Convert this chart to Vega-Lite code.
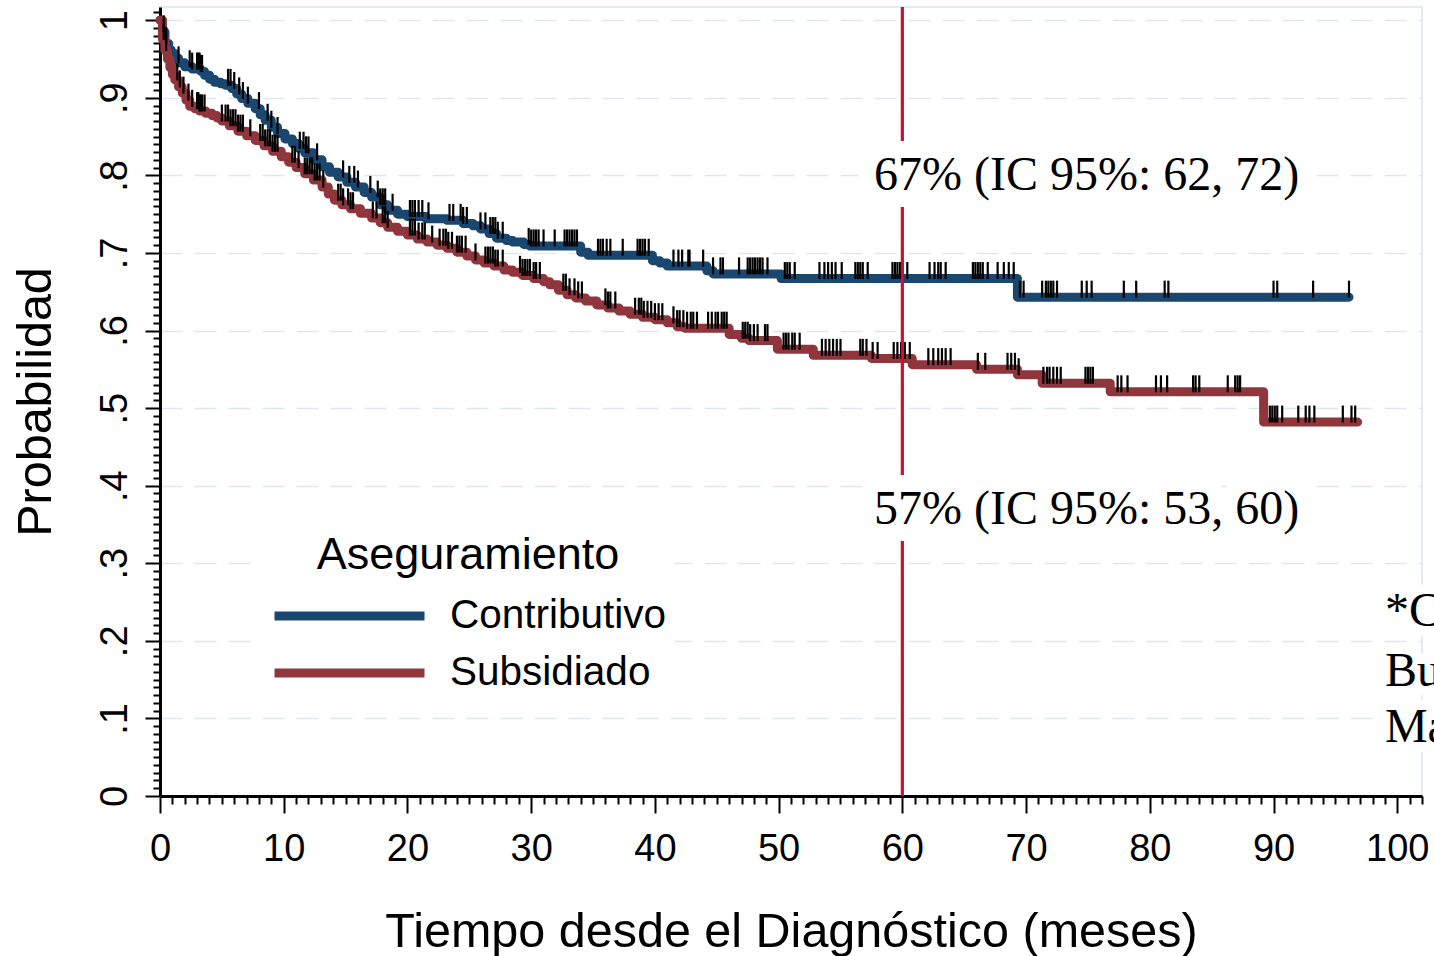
{
  "$schema": "https://vega.github.io/schema/vega-lite/v6.json",
  "width": 1262,
  "height": 789,
  "autosize": {"type": "none"},
  "padding": {"left": 160, "top": 7, "right": 12, "bottom": 160},
  "background": "white",
  "config": {
    "view": {"stroke": "#e3edf1", "strokeWidth": 2},
    "font": "Liberation Sans",
    "axisY": {
      "titleFont": "Liberation Sans",
      "titleFontSize": 48.5,
      "titleFontWeight": "normal",
      "titleColor": "black",
      "titlePadding": 36,
      "labelFont": "Liberation Sans",
      "labelFontSize": 38,
      "labelColor": "black",
      "labelAngle": 270,
      "labelAlign": "center",
      "labelBaseline": "bottom",
      "labelPadding": 11,
      "labelFlush": false,
      "labelOverlap": false,
      "tickColor": "black",
      "tickWidth": 2,
      "domainColor": "black",
      "domainWidth": 3,
      "grid": true,
      "gridColor": "#dde8ed",
      "gridWidth": 1.5,
      "gridDash": [22, 12]
    }
  },
  "datasets": {
    "curvas": [
      {"grupo": "Contributivo", "t": 0, "s": 1.0},
      {"grupo": "Contributivo", "t": 0.2, "s": 0.985},
      {"grupo": "Contributivo", "t": 0.4, "s": 0.970},
      {"grupo": "Contributivo", "t": 0.7, "s": 0.962},
      {"grupo": "Contributivo", "t": 0.9, "s": 0.957},
      {"grupo": "Contributivo", "t": 1.2, "s": 0.951},
      {"grupo": "Contributivo", "t": 1.5, "s": 0.945},
      {"grupo": "Contributivo", "t": 2.0, "s": 0.940},
      {"grupo": "Contributivo", "t": 2.6, "s": 0.937},
      {"grupo": "Contributivo", "t": 3.3, "s": 0.934},
      {"grupo": "Contributivo", "t": 3.6, "s": 0.929},
      {"grupo": "Contributivo", "t": 4.0, "s": 0.924},
      {"grupo": "Contributivo", "t": 4.4, "s": 0.920},
      {"grupo": "Contributivo", "t": 4.9, "s": 0.918},
      {"grupo": "Contributivo", "t": 5.3, "s": 0.916},
      {"grupo": "Contributivo", "t": 5.8, "s": 0.912},
      {"grupo": "Contributivo", "t": 6.2, "s": 0.905},
      {"grupo": "Contributivo", "t": 6.6, "s": 0.899},
      {"grupo": "Contributivo", "t": 7.1, "s": 0.893},
      {"grupo": "Contributivo", "t": 7.7, "s": 0.886},
      {"grupo": "Contributivo", "t": 8.1, "s": 0.878},
      {"grupo": "Contributivo", "t": 8.5, "s": 0.871},
      {"grupo": "Contributivo", "t": 9.0, "s": 0.862},
      {"grupo": "Contributivo", "t": 9.5, "s": 0.854},
      {"grupo": "Contributivo", "t": 10.1, "s": 0.847},
      {"grupo": "Contributivo", "t": 10.7, "s": 0.841},
      {"grupo": "Contributivo", "t": 11.2, "s": 0.835},
      {"grupo": "Contributivo", "t": 11.7, "s": 0.829},
      {"grupo": "Contributivo", "t": 12.4, "s": 0.820},
      {"grupo": "Contributivo", "t": 13.1, "s": 0.811},
      {"grupo": "Contributivo", "t": 13.7, "s": 0.804},
      {"grupo": "Contributivo", "t": 14.4, "s": 0.798},
      {"grupo": "Contributivo", "t": 15.1, "s": 0.791},
      {"grupo": "Contributivo", "t": 15.8, "s": 0.785},
      {"grupo": "Contributivo", "t": 16.5, "s": 0.778},
      {"grupo": "Contributivo", "t": 17.1, "s": 0.772},
      {"grupo": "Contributivo", "t": 17.8, "s": 0.762},
      {"grupo": "Contributivo", "t": 18.4, "s": 0.755},
      {"grupo": "Contributivo", "t": 19.2, "s": 0.750},
      {"grupo": "Contributivo", "t": 20.0, "s": 0.747},
      {"grupo": "Contributivo", "t": 21.5, "s": 0.744},
      {"grupo": "Contributivo", "t": 23.2, "s": 0.742},
      {"grupo": "Contributivo", "t": 24.5, "s": 0.738},
      {"grupo": "Contributivo", "t": 25.3, "s": 0.735},
      {"grupo": "Contributivo", "t": 25.9, "s": 0.731},
      {"grupo": "Contributivo", "t": 26.6, "s": 0.725},
      {"grupo": "Contributivo", "t": 27.2, "s": 0.719},
      {"grupo": "Contributivo", "t": 28.0, "s": 0.716},
      {"grupo": "Contributivo", "t": 28.5, "s": 0.714},
      {"grupo": "Contributivo", "t": 29.4, "s": 0.711},
      {"grupo": "Contributivo", "t": 29.9, "s": 0.709},
      {"grupo": "Contributivo", "t": 34.0, "s": 0.701},
      {"grupo": "Contributivo", "t": 34.6, "s": 0.697},
      {"grupo": "Contributivo", "t": 39.8, "s": 0.690},
      {"grupo": "Contributivo", "t": 40.4, "s": 0.687},
      {"grupo": "Contributivo", "t": 41.0, "s": 0.683},
      {"grupo": "Contributivo", "t": 44.2, "s": 0.677},
      {"grupo": "Contributivo", "t": 44.7, "s": 0.673},
      {"grupo": "Contributivo", "t": 50.2, "s": 0.667},
      {"grupo": "Contributivo", "t": 69.3, "s": 0.643},
      {"grupo": "Contributivo", "t": 96.1, "s": 0.643},
      {"grupo": "Subsidiado", "t": 0, "s": 1.0},
      {"grupo": "Subsidiado", "t": 0.2, "s": 0.975},
      {"grupo": "Subsidiado", "t": 0.4, "s": 0.961},
      {"grupo": "Subsidiado", "t": 0.6, "s": 0.950},
      {"grupo": "Subsidiado", "t": 0.8, "s": 0.939},
      {"grupo": "Subsidiado", "t": 1.0, "s": 0.930},
      {"grupo": "Subsidiado", "t": 1.2, "s": 0.923},
      {"grupo": "Subsidiado", "t": 1.5, "s": 0.914},
      {"grupo": "Subsidiado", "t": 1.8, "s": 0.906},
      {"grupo": "Subsidiado", "t": 2.1, "s": 0.897},
      {"grupo": "Subsidiado", "t": 2.4, "s": 0.889},
      {"grupo": "Subsidiado", "t": 2.8, "s": 0.886},
      {"grupo": "Subsidiado", "t": 3.2, "s": 0.883},
      {"grupo": "Subsidiado", "t": 3.7, "s": 0.880},
      {"grupo": "Subsidiado", "t": 4.2, "s": 0.877},
      {"grupo": "Subsidiado", "t": 4.6, "s": 0.874},
      {"grupo": "Subsidiado", "t": 5.0, "s": 0.870},
      {"grupo": "Subsidiado", "t": 5.6, "s": 0.864},
      {"grupo": "Subsidiado", "t": 6.3, "s": 0.857},
      {"grupo": "Subsidiado", "t": 7.0, "s": 0.851},
      {"grupo": "Subsidiado", "t": 7.7, "s": 0.845},
      {"grupo": "Subsidiado", "t": 8.4, "s": 0.838},
      {"grupo": "Subsidiado", "t": 9.1, "s": 0.831},
      {"grupo": "Subsidiado", "t": 9.8, "s": 0.824},
      {"grupo": "Subsidiado", "t": 10.4, "s": 0.817},
      {"grupo": "Subsidiado", "t": 11.0, "s": 0.810},
      {"grupo": "Subsidiado", "t": 11.7, "s": 0.802},
      {"grupo": "Subsidiado", "t": 12.4, "s": 0.794},
      {"grupo": "Subsidiado", "t": 13.1, "s": 0.785},
      {"grupo": "Subsidiado", "t": 13.6, "s": 0.776},
      {"grupo": "Subsidiado", "t": 14.1, "s": 0.768},
      {"grupo": "Subsidiado", "t": 14.7, "s": 0.762},
      {"grupo": "Subsidiado", "t": 15.4, "s": 0.757},
      {"grupo": "Subsidiado", "t": 16.2, "s": 0.751},
      {"grupo": "Subsidiado", "t": 17.1, "s": 0.745},
      {"grupo": "Subsidiado", "t": 17.8, "s": 0.739},
      {"grupo": "Subsidiado", "t": 18.4, "s": 0.733},
      {"grupo": "Subsidiado", "t": 19.2, "s": 0.728},
      {"grupo": "Subsidiado", "t": 20.0, "s": 0.723},
      {"grupo": "Subsidiado", "t": 20.8, "s": 0.718},
      {"grupo": "Subsidiado", "t": 21.6, "s": 0.714},
      {"grupo": "Subsidiado", "t": 22.4, "s": 0.710},
      {"grupo": "Subsidiado", "t": 23.2, "s": 0.706},
      {"grupo": "Subsidiado", "t": 24.0, "s": 0.701},
      {"grupo": "Subsidiado", "t": 24.8, "s": 0.696},
      {"grupo": "Subsidiado", "t": 25.5, "s": 0.691},
      {"grupo": "Subsidiado", "t": 26.2, "s": 0.687},
      {"grupo": "Subsidiado", "t": 27.0, "s": 0.683},
      {"grupo": "Subsidiado", "t": 27.8, "s": 0.678},
      {"grupo": "Subsidiado", "t": 28.5, "s": 0.675},
      {"grupo": "Subsidiado", "t": 29.3, "s": 0.671},
      {"grupo": "Subsidiado", "t": 30.2, "s": 0.667},
      {"grupo": "Subsidiado", "t": 31.0, "s": 0.663},
      {"grupo": "Subsidiado", "t": 31.5, "s": 0.659},
      {"grupo": "Subsidiado", "t": 32.2, "s": 0.652},
      {"grupo": "Subsidiado", "t": 32.9, "s": 0.646},
      {"grupo": "Subsidiado", "t": 33.6, "s": 0.642},
      {"grupo": "Subsidiado", "t": 34.4, "s": 0.638},
      {"grupo": "Subsidiado", "t": 35.3, "s": 0.633},
      {"grupo": "Subsidiado", "t": 36.2, "s": 0.629},
      {"grupo": "Subsidiado", "t": 37.1, "s": 0.625},
      {"grupo": "Subsidiado", "t": 38.0, "s": 0.621},
      {"grupo": "Subsidiado", "t": 39.0, "s": 0.617},
      {"grupo": "Subsidiado", "t": 40.0, "s": 0.614},
      {"grupo": "Subsidiado", "t": 41.0, "s": 0.610},
      {"grupo": "Subsidiado", "t": 41.8, "s": 0.605},
      {"grupo": "Subsidiado", "t": 42.4, "s": 0.603},
      {"grupo": "Subsidiado", "t": 46.0, "s": 0.595},
      {"grupo": "Subsidiado", "t": 47.0, "s": 0.590},
      {"grupo": "Subsidiado", "t": 47.6, "s": 0.587},
      {"grupo": "Subsidiado", "t": 49.9, "s": 0.576},
      {"grupo": "Subsidiado", "t": 52.8, "s": 0.568},
      {"grupo": "Subsidiado", "t": 57.5, "s": 0.564},
      {"grupo": "Subsidiado", "t": 60.8, "s": 0.556},
      {"grupo": "Subsidiado", "t": 66.0, "s": 0.550},
      {"grupo": "Subsidiado", "t": 69.3, "s": 0.543},
      {"grupo": "Subsidiado", "t": 71.3, "s": 0.532},
      {"grupo": "Subsidiado", "t": 76.8, "s": 0.521},
      {"grupo": "Subsidiado", "t": 89.2, "s": 0.482},
      {"grupo": "Subsidiado", "t": 96.8, "s": 0.482}
    ],
    "censuras": [
      {"grupo": "Contributivo", "t": 0.3, "s": 0.985},
      {"grupo": "Contributivo", "t": 0.5, "s": 0.970},
      {"grupo": "Contributivo", "t": 1.5, "s": 0.945},
      {"grupo": "Contributivo", "t": 2.4, "s": 0.940},
      {"grupo": "Contributivo", "t": 2.6, "s": 0.937},
      {"grupo": "Contributivo", "t": 3.0, "s": 0.937},
      {"grupo": "Contributivo", "t": 3.1, "s": 0.937},
      {"grupo": "Contributivo", "t": 3.2, "s": 0.937},
      {"grupo": "Contributivo", "t": 3.3, "s": 0.934},
      {"grupo": "Contributivo", "t": 3.4, "s": 0.934},
      {"grupo": "Contributivo", "t": 5.5, "s": 0.916},
      {"grupo": "Contributivo", "t": 5.7, "s": 0.916},
      {"grupo": "Contributivo", "t": 6.0, "s": 0.912},
      {"grupo": "Contributivo", "t": 6.4, "s": 0.905},
      {"grupo": "Contributivo", "t": 6.7, "s": 0.899},
      {"grupo": "Contributivo", "t": 7.1, "s": 0.893},
      {"grupo": "Contributivo", "t": 8.0, "s": 0.886},
      {"grupo": "Contributivo", "t": 8.7, "s": 0.871},
      {"grupo": "Contributivo", "t": 9.0, "s": 0.862},
      {"grupo": "Contributivo", "t": 9.5, "s": 0.854},
      {"grupo": "Contributivo", "t": 11.3, "s": 0.835},
      {"grupo": "Contributivo", "t": 11.6, "s": 0.835},
      {"grupo": "Contributivo", "t": 11.8, "s": 0.829},
      {"grupo": "Contributivo", "t": 12.0, "s": 0.829},
      {"grupo": "Contributivo", "t": 12.7, "s": 0.820},
      {"grupo": "Contributivo", "t": 14.8, "s": 0.798},
      {"grupo": "Contributivo", "t": 15.3, "s": 0.791},
      {"grupo": "Contributivo", "t": 15.7, "s": 0.791},
      {"grupo": "Contributivo", "t": 16.0, "s": 0.785},
      {"grupo": "Contributivo", "t": 17.0, "s": 0.778},
      {"grupo": "Contributivo", "t": 17.6, "s": 0.772},
      {"grupo": "Contributivo", "t": 17.8, "s": 0.762},
      {"grupo": "Contributivo", "t": 18.0, "s": 0.762},
      {"grupo": "Contributivo", "t": 18.2, "s": 0.762},
      {"grupo": "Contributivo", "t": 18.8, "s": 0.755},
      {"grupo": "Contributivo", "t": 20.2, "s": 0.747},
      {"grupo": "Contributivo", "t": 20.4, "s": 0.747},
      {"grupo": "Contributivo", "t": 20.6, "s": 0.747},
      {"grupo": "Contributivo", "t": 20.9, "s": 0.747},
      {"grupo": "Contributivo", "t": 21.2, "s": 0.747},
      {"grupo": "Contributivo", "t": 21.7, "s": 0.744},
      {"grupo": "Contributivo", "t": 23.4, "s": 0.742},
      {"grupo": "Contributivo", "t": 23.7, "s": 0.742},
      {"grupo": "Contributivo", "t": 24.3, "s": 0.742},
      {"grupo": "Contributivo", "t": 24.5, "s": 0.738},
      {"grupo": "Contributivo", "t": 24.8, "s": 0.738},
      {"grupo": "Contributivo", "t": 25.9, "s": 0.731},
      {"grupo": "Contributivo", "t": 26.3, "s": 0.731},
      {"grupo": "Contributivo", "t": 26.7, "s": 0.725},
      {"grupo": "Contributivo", "t": 26.9, "s": 0.725},
      {"grupo": "Contributivo", "t": 27.1, "s": 0.725},
      {"grupo": "Contributivo", "t": 27.3, "s": 0.719},
      {"grupo": "Contributivo", "t": 27.7, "s": 0.719},
      {"grupo": "Contributivo", "t": 29.8, "s": 0.711},
      {"grupo": "Contributivo", "t": 30.0, "s": 0.709},
      {"grupo": "Contributivo", "t": 30.2, "s": 0.709},
      {"grupo": "Contributivo", "t": 30.4, "s": 0.709},
      {"grupo": "Contributivo", "t": 30.6, "s": 0.709},
      {"grupo": "Contributivo", "t": 31.0, "s": 0.709},
      {"grupo": "Contributivo", "t": 31.9, "s": 0.709},
      {"grupo": "Contributivo", "t": 32.7, "s": 0.709},
      {"grupo": "Contributivo", "t": 32.9, "s": 0.709},
      {"grupo": "Contributivo", "t": 33.1, "s": 0.709},
      {"grupo": "Contributivo", "t": 33.3, "s": 0.709},
      {"grupo": "Contributivo", "t": 33.5, "s": 0.709},
      {"grupo": "Contributivo", "t": 33.7, "s": 0.709},
      {"grupo": "Contributivo", "t": 35.4, "s": 0.697},
      {"grupo": "Contributivo", "t": 35.6, "s": 0.697},
      {"grupo": "Contributivo", "t": 35.8, "s": 0.697},
      {"grupo": "Contributivo", "t": 36.1, "s": 0.697},
      {"grupo": "Contributivo", "t": 36.4, "s": 0.697},
      {"grupo": "Contributivo", "t": 37.4, "s": 0.697},
      {"grupo": "Contributivo", "t": 38.6, "s": 0.697},
      {"grupo": "Contributivo", "t": 38.8, "s": 0.697},
      {"grupo": "Contributivo", "t": 39.0, "s": 0.697},
      {"grupo": "Contributivo", "t": 39.2, "s": 0.697},
      {"grupo": "Contributivo", "t": 39.5, "s": 0.697},
      {"grupo": "Contributivo", "t": 41.5, "s": 0.683},
      {"grupo": "Contributivo", "t": 41.9, "s": 0.683},
      {"grupo": "Contributivo", "t": 42.2, "s": 0.683},
      {"grupo": "Contributivo", "t": 42.7, "s": 0.683},
      {"grupo": "Contributivo", "t": 42.8, "s": 0.683},
      {"grupo": "Contributivo", "t": 43.9, "s": 0.683},
      {"grupo": "Contributivo", "t": 44.7, "s": 0.673},
      {"grupo": "Contributivo", "t": 45.3, "s": 0.673},
      {"grupo": "Contributivo", "t": 45.5, "s": 0.673},
      {"grupo": "Contributivo", "t": 46.8, "s": 0.673},
      {"grupo": "Contributivo", "t": 47.5, "s": 0.673},
      {"grupo": "Contributivo", "t": 47.7, "s": 0.673},
      {"grupo": "Contributivo", "t": 47.9, "s": 0.673},
      {"grupo": "Contributivo", "t": 48.1, "s": 0.673},
      {"grupo": "Contributivo", "t": 48.3, "s": 0.673},
      {"grupo": "Contributivo", "t": 48.5, "s": 0.673},
      {"grupo": "Contributivo", "t": 48.7, "s": 0.673},
      {"grupo": "Contributivo", "t": 49.1, "s": 0.673},
      {"grupo": "Contributivo", "t": 50.5, "s": 0.667},
      {"grupo": "Contributivo", "t": 50.7, "s": 0.667},
      {"grupo": "Contributivo", "t": 50.9, "s": 0.667},
      {"grupo": "Contributivo", "t": 51.3, "s": 0.667},
      {"grupo": "Contributivo", "t": 53.3, "s": 0.667},
      {"grupo": "Contributivo", "t": 53.7, "s": 0.667},
      {"grupo": "Contributivo", "t": 54.0, "s": 0.667},
      {"grupo": "Contributivo", "t": 54.3, "s": 0.667},
      {"grupo": "Contributivo", "t": 54.6, "s": 0.667},
      {"grupo": "Contributivo", "t": 55.1, "s": 0.667},
      {"grupo": "Contributivo", "t": 56.2, "s": 0.667},
      {"grupo": "Contributivo", "t": 56.4, "s": 0.667},
      {"grupo": "Contributivo", "t": 56.6, "s": 0.667},
      {"grupo": "Contributivo", "t": 56.8, "s": 0.667},
      {"grupo": "Contributivo", "t": 57.2, "s": 0.667},
      {"grupo": "Contributivo", "t": 59.2, "s": 0.667},
      {"grupo": "Contributivo", "t": 59.4, "s": 0.667},
      {"grupo": "Contributivo", "t": 59.6, "s": 0.667},
      {"grupo": "Contributivo", "t": 59.8, "s": 0.667},
      {"grupo": "Contributivo", "t": 60.0, "s": 0.667},
      {"grupo": "Contributivo", "t": 60.4, "s": 0.667},
      {"grupo": "Contributivo", "t": 62.2, "s": 0.667},
      {"grupo": "Contributivo", "t": 62.6, "s": 0.667},
      {"grupo": "Contributivo", "t": 62.9, "s": 0.667},
      {"grupo": "Contributivo", "t": 63.1, "s": 0.667},
      {"grupo": "Contributivo", "t": 63.5, "s": 0.667},
      {"grupo": "Contributivo", "t": 65.7, "s": 0.667},
      {"grupo": "Contributivo", "t": 65.9, "s": 0.667},
      {"grupo": "Contributivo", "t": 66.1, "s": 0.667},
      {"grupo": "Contributivo", "t": 66.3, "s": 0.667},
      {"grupo": "Contributivo", "t": 66.5, "s": 0.667},
      {"grupo": "Contributivo", "t": 66.9, "s": 0.667},
      {"grupo": "Contributivo", "t": 67.7, "s": 0.667},
      {"grupo": "Contributivo", "t": 68.2, "s": 0.667},
      {"grupo": "Contributivo", "t": 68.6, "s": 0.667},
      {"grupo": "Contributivo", "t": 69.0, "s": 0.667},
      {"grupo": "Contributivo", "t": 69.5, "s": 0.643},
      {"grupo": "Contributivo", "t": 69.8, "s": 0.643},
      {"grupo": "Contributivo", "t": 71.3, "s": 0.643},
      {"grupo": "Contributivo", "t": 71.6, "s": 0.643},
      {"grupo": "Contributivo", "t": 71.8, "s": 0.643},
      {"grupo": "Contributivo", "t": 72.0, "s": 0.643},
      {"grupo": "Contributivo", "t": 72.2, "s": 0.643},
      {"grupo": "Contributivo", "t": 72.5, "s": 0.643},
      {"grupo": "Contributivo", "t": 74.5, "s": 0.643},
      {"grupo": "Contributivo", "t": 74.9, "s": 0.643},
      {"grupo": "Contributivo", "t": 75.3, "s": 0.643},
      {"grupo": "Contributivo", "t": 77.9, "s": 0.643},
      {"grupo": "Contributivo", "t": 78.9, "s": 0.643},
      {"grupo": "Contributivo", "t": 81.2, "s": 0.643},
      {"grupo": "Contributivo", "t": 81.5, "s": 0.643},
      {"grupo": "Contributivo", "t": 90.0, "s": 0.643},
      {"grupo": "Contributivo", "t": 90.3, "s": 0.643},
      {"grupo": "Contributivo", "t": 93.2, "s": 0.643},
      {"grupo": "Contributivo", "t": 96.1, "s": 0.643},
      {"grupo": "Subsidiado", "t": 0.3, "s": 0.975},
      {"grupo": "Subsidiado", "t": 0.5, "s": 0.961},
      {"grupo": "Subsidiado", "t": 1.4, "s": 0.923},
      {"grupo": "Subsidiado", "t": 1.6, "s": 0.914},
      {"grupo": "Subsidiado", "t": 1.9, "s": 0.906},
      {"grupo": "Subsidiado", "t": 2.3, "s": 0.897},
      {"grupo": "Subsidiado", "t": 2.6, "s": 0.889},
      {"grupo": "Subsidiado", "t": 3.0, "s": 0.886},
      {"grupo": "Subsidiado", "t": 3.1, "s": 0.886},
      {"grupo": "Subsidiado", "t": 3.2, "s": 0.883},
      {"grupo": "Subsidiado", "t": 3.3, "s": 0.883},
      {"grupo": "Subsidiado", "t": 3.4, "s": 0.883},
      {"grupo": "Subsidiado", "t": 3.6, "s": 0.883},
      {"grupo": "Subsidiado", "t": 5.0, "s": 0.870},
      {"grupo": "Subsidiado", "t": 5.3, "s": 0.870},
      {"grupo": "Subsidiado", "t": 5.5, "s": 0.870},
      {"grupo": "Subsidiado", "t": 5.7, "s": 0.864},
      {"grupo": "Subsidiado", "t": 5.9, "s": 0.864},
      {"grupo": "Subsidiado", "t": 6.1, "s": 0.864},
      {"grupo": "Subsidiado", "t": 6.3, "s": 0.857},
      {"grupo": "Subsidiado", "t": 6.5, "s": 0.857},
      {"grupo": "Subsidiado", "t": 6.7, "s": 0.857},
      {"grupo": "Subsidiado", "t": 7.3, "s": 0.851},
      {"grupo": "Subsidiado", "t": 8.1, "s": 0.845},
      {"grupo": "Subsidiado", "t": 8.3, "s": 0.845},
      {"grupo": "Subsidiado", "t": 8.5, "s": 0.838},
      {"grupo": "Subsidiado", "t": 8.7, "s": 0.838},
      {"grupo": "Subsidiado", "t": 8.9, "s": 0.838},
      {"grupo": "Subsidiado", "t": 9.1, "s": 0.831},
      {"grupo": "Subsidiado", "t": 9.3, "s": 0.831},
      {"grupo": "Subsidiado", "t": 9.5, "s": 0.831},
      {"grupo": "Subsidiado", "t": 10.7, "s": 0.817},
      {"grupo": "Subsidiado", "t": 10.9, "s": 0.817},
      {"grupo": "Subsidiado", "t": 11.2, "s": 0.810},
      {"grupo": "Subsidiado", "t": 11.7, "s": 0.802},
      {"grupo": "Subsidiado", "t": 11.9, "s": 0.802},
      {"grupo": "Subsidiado", "t": 12.1, "s": 0.802},
      {"grupo": "Subsidiado", "t": 12.3, "s": 0.802},
      {"grupo": "Subsidiado", "t": 12.5, "s": 0.794},
      {"grupo": "Subsidiado", "t": 12.7, "s": 0.794},
      {"grupo": "Subsidiado", "t": 12.9, "s": 0.794},
      {"grupo": "Subsidiado", "t": 13.2, "s": 0.785},
      {"grupo": "Subsidiado", "t": 14.4, "s": 0.768},
      {"grupo": "Subsidiado", "t": 14.6, "s": 0.768},
      {"grupo": "Subsidiado", "t": 14.8, "s": 0.762},
      {"grupo": "Subsidiado", "t": 15.2, "s": 0.762},
      {"grupo": "Subsidiado", "t": 15.4, "s": 0.757},
      {"grupo": "Subsidiado", "t": 15.6, "s": 0.757},
      {"grupo": "Subsidiado", "t": 17.2, "s": 0.745},
      {"grupo": "Subsidiado", "t": 17.5, "s": 0.745},
      {"grupo": "Subsidiado", "t": 18.0, "s": 0.739},
      {"grupo": "Subsidiado", "t": 18.2, "s": 0.739},
      {"grupo": "Subsidiado", "t": 18.4, "s": 0.733},
      {"grupo": "Subsidiado", "t": 20.2, "s": 0.723},
      {"grupo": "Subsidiado", "t": 20.4, "s": 0.723},
      {"grupo": "Subsidiado", "t": 20.6, "s": 0.723},
      {"grupo": "Subsidiado", "t": 20.9, "s": 0.718},
      {"grupo": "Subsidiado", "t": 21.2, "s": 0.718},
      {"grupo": "Subsidiado", "t": 21.4, "s": 0.718},
      {"grupo": "Subsidiado", "t": 22.0, "s": 0.714},
      {"grupo": "Subsidiado", "t": 22.6, "s": 0.710},
      {"grupo": "Subsidiado", "t": 22.9, "s": 0.710},
      {"grupo": "Subsidiado", "t": 23.1, "s": 0.710},
      {"grupo": "Subsidiado", "t": 23.3, "s": 0.706},
      {"grupo": "Subsidiado", "t": 23.6, "s": 0.706},
      {"grupo": "Subsidiado", "t": 24.0, "s": 0.701},
      {"grupo": "Subsidiado", "t": 24.2, "s": 0.701},
      {"grupo": "Subsidiado", "t": 24.4, "s": 0.701},
      {"grupo": "Subsidiado", "t": 24.7, "s": 0.701},
      {"grupo": "Subsidiado", "t": 25.5, "s": 0.691},
      {"grupo": "Subsidiado", "t": 26.3, "s": 0.687},
      {"grupo": "Subsidiado", "t": 26.5, "s": 0.687},
      {"grupo": "Subsidiado", "t": 26.7, "s": 0.687},
      {"grupo": "Subsidiado", "t": 26.9, "s": 0.687},
      {"grupo": "Subsidiado", "t": 27.1, "s": 0.683},
      {"grupo": "Subsidiado", "t": 27.3, "s": 0.683},
      {"grupo": "Subsidiado", "t": 27.7, "s": 0.683},
      {"grupo": "Subsidiado", "t": 29.1, "s": 0.675},
      {"grupo": "Subsidiado", "t": 29.3, "s": 0.671},
      {"grupo": "Subsidiado", "t": 29.5, "s": 0.671},
      {"grupo": "Subsidiado", "t": 29.7, "s": 0.671},
      {"grupo": "Subsidiado", "t": 29.9, "s": 0.671},
      {"grupo": "Subsidiado", "t": 30.2, "s": 0.667},
      {"grupo": "Subsidiado", "t": 30.4, "s": 0.667},
      {"grupo": "Subsidiado", "t": 30.7, "s": 0.667},
      {"grupo": "Subsidiado", "t": 32.6, "s": 0.652},
      {"grupo": "Subsidiado", "t": 32.8, "s": 0.652},
      {"grupo": "Subsidiado", "t": 33.1, "s": 0.646},
      {"grupo": "Subsidiado", "t": 33.5, "s": 0.646},
      {"grupo": "Subsidiado", "t": 33.8, "s": 0.642},
      {"grupo": "Subsidiado", "t": 34.1, "s": 0.642},
      {"grupo": "Subsidiado", "t": 36.0, "s": 0.633},
      {"grupo": "Subsidiado", "t": 36.2, "s": 0.629},
      {"grupo": "Subsidiado", "t": 36.4, "s": 0.629},
      {"grupo": "Subsidiado", "t": 36.8, "s": 0.629},
      {"grupo": "Subsidiado", "t": 38.4, "s": 0.621},
      {"grupo": "Subsidiado", "t": 38.7, "s": 0.621},
      {"grupo": "Subsidiado", "t": 38.9, "s": 0.621},
      {"grupo": "Subsidiado", "t": 39.1, "s": 0.617},
      {"grupo": "Subsidiado", "t": 39.4, "s": 0.617},
      {"grupo": "Subsidiado", "t": 39.7, "s": 0.617},
      {"grupo": "Subsidiado", "t": 40.0, "s": 0.614},
      {"grupo": "Subsidiado", "t": 40.3, "s": 0.614},
      {"grupo": "Subsidiado", "t": 40.6, "s": 0.614},
      {"grupo": "Subsidiado", "t": 41.5, "s": 0.610},
      {"grupo": "Subsidiado", "t": 41.8, "s": 0.605},
      {"grupo": "Subsidiado", "t": 42.0, "s": 0.605},
      {"grupo": "Subsidiado", "t": 42.3, "s": 0.605},
      {"grupo": "Subsidiado", "t": 42.6, "s": 0.603},
      {"grupo": "Subsidiado", "t": 42.9, "s": 0.603},
      {"grupo": "Subsidiado", "t": 43.1, "s": 0.603},
      {"grupo": "Subsidiado", "t": 43.4, "s": 0.603},
      {"grupo": "Subsidiado", "t": 44.3, "s": 0.603},
      {"grupo": "Subsidiado", "t": 44.6, "s": 0.603},
      {"grupo": "Subsidiado", "t": 44.9, "s": 0.603},
      {"grupo": "Subsidiado", "t": 45.1, "s": 0.603},
      {"grupo": "Subsidiado", "t": 45.4, "s": 0.603},
      {"grupo": "Subsidiado", "t": 45.6, "s": 0.603},
      {"grupo": "Subsidiado", "t": 45.8, "s": 0.603},
      {"grupo": "Subsidiado", "t": 47.1, "s": 0.590},
      {"grupo": "Subsidiado", "t": 47.3, "s": 0.590},
      {"grupo": "Subsidiado", "t": 47.5, "s": 0.590},
      {"grupo": "Subsidiado", "t": 47.7, "s": 0.587},
      {"grupo": "Subsidiado", "t": 48.0, "s": 0.587},
      {"grupo": "Subsidiado", "t": 48.3, "s": 0.587},
      {"grupo": "Subsidiado", "t": 48.9, "s": 0.587},
      {"grupo": "Subsidiado", "t": 49.1, "s": 0.587},
      {"grupo": "Subsidiado", "t": 50.4, "s": 0.576},
      {"grupo": "Subsidiado", "t": 50.6, "s": 0.576},
      {"grupo": "Subsidiado", "t": 50.8, "s": 0.576},
      {"grupo": "Subsidiado", "t": 51.1, "s": 0.576},
      {"grupo": "Subsidiado", "t": 51.3, "s": 0.576},
      {"grupo": "Subsidiado", "t": 51.7, "s": 0.576},
      {"grupo": "Subsidiado", "t": 53.5, "s": 0.568},
      {"grupo": "Subsidiado", "t": 53.8, "s": 0.568},
      {"grupo": "Subsidiado", "t": 54.1, "s": 0.568},
      {"grupo": "Subsidiado", "t": 54.4, "s": 0.568},
      {"grupo": "Subsidiado", "t": 54.7, "s": 0.568},
      {"grupo": "Subsidiado", "t": 55.0, "s": 0.568},
      {"grupo": "Subsidiado", "t": 56.6, "s": 0.568},
      {"grupo": "Subsidiado", "t": 56.8, "s": 0.568},
      {"grupo": "Subsidiado", "t": 57.1, "s": 0.568},
      {"grupo": "Subsidiado", "t": 57.6, "s": 0.564},
      {"grupo": "Subsidiado", "t": 58.0, "s": 0.564},
      {"grupo": "Subsidiado", "t": 59.3, "s": 0.564},
      {"grupo": "Subsidiado", "t": 59.6, "s": 0.564},
      {"grupo": "Subsidiado", "t": 59.9, "s": 0.564},
      {"grupo": "Subsidiado", "t": 60.2, "s": 0.564},
      {"grupo": "Subsidiado", "t": 60.6, "s": 0.564},
      {"grupo": "Subsidiado", "t": 62.1, "s": 0.556},
      {"grupo": "Subsidiado", "t": 62.5, "s": 0.556},
      {"grupo": "Subsidiado", "t": 62.9, "s": 0.556},
      {"grupo": "Subsidiado", "t": 63.2, "s": 0.556},
      {"grupo": "Subsidiado", "t": 63.5, "s": 0.556},
      {"grupo": "Subsidiado", "t": 63.9, "s": 0.556},
      {"grupo": "Subsidiado", "t": 66.1, "s": 0.550},
      {"grupo": "Subsidiado", "t": 66.7, "s": 0.550},
      {"grupo": "Subsidiado", "t": 68.5, "s": 0.550},
      {"grupo": "Subsidiado", "t": 68.8, "s": 0.550},
      {"grupo": "Subsidiado", "t": 69.1, "s": 0.550},
      {"grupo": "Subsidiado", "t": 69.4, "s": 0.543},
      {"grupo": "Subsidiado", "t": 71.4, "s": 0.532},
      {"grupo": "Subsidiado", "t": 71.7, "s": 0.532},
      {"grupo": "Subsidiado", "t": 71.9, "s": 0.532},
      {"grupo": "Subsidiado", "t": 72.2, "s": 0.532},
      {"grupo": "Subsidiado", "t": 72.5, "s": 0.532},
      {"grupo": "Subsidiado", "t": 72.8, "s": 0.532},
      {"grupo": "Subsidiado", "t": 74.8, "s": 0.532},
      {"grupo": "Subsidiado", "t": 75.0, "s": 0.532},
      {"grupo": "Subsidiado", "t": 75.2, "s": 0.532},
      {"grupo": "Subsidiado", "t": 75.4, "s": 0.532},
      {"grupo": "Subsidiado", "t": 77.4, "s": 0.521},
      {"grupo": "Subsidiado", "t": 77.7, "s": 0.521},
      {"grupo": "Subsidiado", "t": 78.2, "s": 0.521},
      {"grupo": "Subsidiado", "t": 80.5, "s": 0.521},
      {"grupo": "Subsidiado", "t": 80.9, "s": 0.521},
      {"grupo": "Subsidiado", "t": 81.4, "s": 0.521},
      {"grupo": "Subsidiado", "t": 83.5, "s": 0.521},
      {"grupo": "Subsidiado", "t": 83.7, "s": 0.521},
      {"grupo": "Subsidiado", "t": 84.0, "s": 0.521},
      {"grupo": "Subsidiado", "t": 86.3, "s": 0.521},
      {"grupo": "Subsidiado", "t": 86.9, "s": 0.521},
      {"grupo": "Subsidiado", "t": 87.1, "s": 0.521},
      {"grupo": "Subsidiado", "t": 87.3, "s": 0.521},
      {"grupo": "Subsidiado", "t": 89.7, "s": 0.482},
      {"grupo": "Subsidiado", "t": 89.9, "s": 0.482},
      {"grupo": "Subsidiado", "t": 90.1, "s": 0.482},
      {"grupo": "Subsidiado", "t": 90.3, "s": 0.482},
      {"grupo": "Subsidiado", "t": 90.7, "s": 0.482},
      {"grupo": "Subsidiado", "t": 92.0, "s": 0.482},
      {"grupo": "Subsidiado", "t": 92.6, "s": 0.482},
      {"grupo": "Subsidiado", "t": 92.9, "s": 0.482},
      {"grupo": "Subsidiado", "t": 93.3, "s": 0.482},
      {"grupo": "Subsidiado", "t": 95.6, "s": 0.482},
      {"grupo": "Subsidiado", "t": 96.3, "s": 0.482},
      {"grupo": "Subsidiado", "t": 96.6, "s": 0.482}
    ],
    "notas": [
      {"texto": "67% (IC 95%: 62, 72)", "t": 74.9, "s": 0.799},
      {"texto": "57% (IC 95%: 53, 60)", "t": 74.9, "s": 0.369}
    ],
    "nota_lateral": [
      {"texto": "*C", "t": 99.0, "s": 0.237},
      {"texto": "Bu", "t": 99.0, "s": 0.160},
      {"texto": "Ma", "t": 99.0, "s": 0.088}
    ],
    "referencia": [
      {"t": 60}
    ]
  },
  "encoding": {
    "x": {
      "field": "t",
      "type": "quantitative",
      "scale": {"domain": [0, 102], "nice": false, "zero": false},
      "axis": {
        "title": "Tiempo desde el Diagnóstico (meses)",
        "titleFont": "Liberation Sans",
        "titleFontSize": 48.5,
        "titleFontWeight": "normal",
        "titleColor": "black",
        "titlePadding": 40,
        "values": [0,1,2,3,4,5,6,7,8,9,10,11,12,13,14,15,16,17,18,19,20,21,22,23,24,25,26,27,28,29,30,31,32,33,34,35,36,37,38,39,40,41,42,43,44,45,46,47,48,49,50,51,52,53,54,55,56,57,58,59,60,61,62,63,64,65,66,67,68,69,70,71,72,73,74,75,76,77,78,79,80,81,82,83,84,85,86,87,88,89,90,91,92,93,94,95,96,97,98,99,100,101,102],
        "labelExpr": "datum.value % 10 === 0 ? datum.value : ''",
        "labelFont": "Liberation Sans",
        "labelFontSize": 38,
        "labelColor": "black",
        "labelPadding": 17,
        "labelFlush": false,
        "labelOverlap": false,
        "tickColor": "black",
        "tickWidth": 2,
        "tickSize": {"condition": {"test": "datum.value % 10 === 0", "value": 17}, "value": 8},
        "domainColor": "black",
        "domainWidth": 3,
        "grid": false
      }
    }
  },
  "layer": [
    {
      "data": {"name": "curvas"},
      "mark": {"type": "line", "interpolate": "step-after", "strokeWidth": 9, "strokeCap": "round", "strokeJoin": "round"},
      "encoding": {
        "y": {
          "field": "s", "type": "quantitative", "title": "Probabilidad",
          "scale": {"domain": [0, 1.017], "nice": false, "zero": false},
          "axis": {
            "title": "Probabilidad",
            "values": [0,0.01,0.02,0.03,0.04,0.05,0.06,0.07,0.08,0.09,0.1,0.11,0.12,0.13,0.14,0.15,0.16,0.17,0.18,0.19,0.2,0.21,0.22,0.23,0.24,0.25,0.26,0.27,0.28,0.29,0.3,0.31,0.32,0.33,0.34,0.35,0.36,0.37,0.38,0.39,0.4,0.41,0.42,0.43,0.44,0.45,0.46,0.47,0.48,0.49,0.5,0.51,0.52,0.53,0.54,0.55,0.56,0.57,0.58,0.59,0.6,0.61,0.62,0.63,0.64,0.65,0.66,0.67,0.68,0.69,0.7,0.71,0.72,0.73,0.74,0.75,0.76,0.77,0.78,0.79,0.8,0.81,0.82,0.83,0.84,0.85,0.86,0.87,0.88,0.89,0.9,0.91,0.92,0.93,0.94,0.95,0.96,0.97,0.98,0.99,1.0,1.01],
            "labelExpr": "abs(datum.value*10 - round(datum.value*10)) < 0.001 ? (datum.value < 0.001 ? '0' : (abs(datum.value - 1) < 0.001 ? '1' : '.' + round(datum.value*10))) : ''",
            "tickSize": {"condition": {"test": "abs(datum.value*10 - round(datum.value*10)) < 0.001", "value": 15}, "value": 7},
            "gridOpacity": {"condition": {"test": "abs(datum.value*10 - round(datum.value*10)) < 0.001 && datum.value > 0.05 && datum.value < 1.005", "value": 1}, "value": 0}
          }
        },
        "color": {
          "field": "grupo",
          "type": "nominal",
          "scale": {"domain": ["Contributivo", "Subsidiado"], "range": ["#1a476f", "#90353b"]},
          "legend": {
            "title": "Aseguramiento",
            "orient": "none",
            "legendX": 102,
            "legendY": 517.5,
            "direction": "vertical",
            "fillColor": "white",
            "padding": 8,
            "titleFont": "Liberation Sans",
            "titleFontSize": 45,
            "titleFontWeight": "normal",
            "titleColor": "black",
            "titleAnchor": "middle",
            "titleLimit": 2000,
            "titlePadding": 16.5,
            "labelFont": "Liberation Sans",
            "labelFontSize": 40.5,
            "labelColor": "black",
            "labelLimit": 2000,
            "labelOffset": 21,
            "symbolType": "stroke",
            "symbolSize": 22500,
            "symbolStrokeWidth": 9,
            "clipHeight": 44,
            "rowPadding": 13
          }
        }
      }
    },
    {
      "data": {"name": "censuras"},
      "mark": {"type": "tick", "orient": "vertical", "color": "black", "size": 17, "thickness": 2.2, "yOffset": -8, "opacity": 1},
      "encoding": {
        "y": {
          "field": "s", "type": "quantitative", "title": "Probabilidad",
          "scale": {"domain": [0, 1.017], "nice": false, "zero": false},
          "axis": {
            "title": "Probabilidad",
            "values": [0,0.01,0.02,0.03,0.04,0.05,0.06,0.07,0.08,0.09,0.1,0.11,0.12,0.13,0.14,0.15,0.16,0.17,0.18,0.19,0.2,0.21,0.22,0.23,0.24,0.25,0.26,0.27,0.28,0.29,0.3,0.31,0.32,0.33,0.34,0.35,0.36,0.37,0.38,0.39,0.4,0.41,0.42,0.43,0.44,0.45,0.46,0.47,0.48,0.49,0.5,0.51,0.52,0.53,0.54,0.55,0.56,0.57,0.58,0.59,0.6,0.61,0.62,0.63,0.64,0.65,0.66,0.67,0.68,0.69,0.7,0.71,0.72,0.73,0.74,0.75,0.76,0.77,0.78,0.79,0.8,0.81,0.82,0.83,0.84,0.85,0.86,0.87,0.88,0.89,0.9,0.91,0.92,0.93,0.94,0.95,0.96,0.97,0.98,0.99,1.0,1.01],
            "labelExpr": "abs(datum.value*10 - round(datum.value*10)) < 0.001 ? (datum.value < 0.001 ? '0' : (abs(datum.value - 1) < 0.001 ? '1' : '.' + round(datum.value*10))) : ''",
            "tickSize": {"condition": {"test": "abs(datum.value*10 - round(datum.value*10)) < 0.001", "value": 15}, "value": 7},
            "gridOpacity": {"condition": {"test": "abs(datum.value*10 - round(datum.value*10)) < 0.001 && datum.value > 0.05 && datum.value < 1.005", "value": 1}, "value": 0}
          }
        }
      }
    },
    {
      "data": {"name": "referencia"},
      "mark": {"type": "rule", "color": "#c8103a", "strokeWidth": 3.2},
      "encoding": {}
    },
    {
      "data": {"name": "notas"},
      "mark": {"type": "text", "font": "Liberation Serif", "fontSize": 48, "align": "center", "baseline": "middle", "fill": "white", "stroke": "white", "strokeWidth": 34, "strokeJoin": "round"},
      "encoding": {
        "y": {
          "field": "s", "type": "quantitative", "title": "Probabilidad",
          "scale": {"domain": [0, 1.017], "nice": false, "zero": false},
          "axis": {
            "title": "Probabilidad",
            "values": [0,0.01,0.02,0.03,0.04,0.05,0.06,0.07,0.08,0.09,0.1,0.11,0.12,0.13,0.14,0.15,0.16,0.17,0.18,0.19,0.2,0.21,0.22,0.23,0.24,0.25,0.26,0.27,0.28,0.29,0.3,0.31,0.32,0.33,0.34,0.35,0.36,0.37,0.38,0.39,0.4,0.41,0.42,0.43,0.44,0.45,0.46,0.47,0.48,0.49,0.5,0.51,0.52,0.53,0.54,0.55,0.56,0.57,0.58,0.59,0.6,0.61,0.62,0.63,0.64,0.65,0.66,0.67,0.68,0.69,0.7,0.71,0.72,0.73,0.74,0.75,0.76,0.77,0.78,0.79,0.8,0.81,0.82,0.83,0.84,0.85,0.86,0.87,0.88,0.89,0.9,0.91,0.92,0.93,0.94,0.95,0.96,0.97,0.98,0.99,1.0,1.01],
            "labelExpr": "abs(datum.value*10 - round(datum.value*10)) < 0.001 ? (datum.value < 0.001 ? '0' : (abs(datum.value - 1) < 0.001 ? '1' : '.' + round(datum.value*10))) : ''",
            "tickSize": {"condition": {"test": "abs(datum.value*10 - round(datum.value*10)) < 0.001", "value": 15}, "value": 7},
            "gridOpacity": {"condition": {"test": "abs(datum.value*10 - round(datum.value*10)) < 0.001 && datum.value > 0.05 && datum.value < 1.005", "value": 1}, "value": 0}
          }
        },
        "text": {"field": "texto"}
      }
    },
    {
      "data": {"name": "notas"},
      "mark": {"type": "text", "font": "Liberation Serif", "fontSize": 48, "align": "center", "baseline": "middle", "color": "black"},
      "encoding": {
        "y": {
          "field": "s", "type": "quantitative", "title": "Probabilidad",
          "scale": {"domain": [0, 1.017], "nice": false, "zero": false},
          "axis": {
            "title": "Probabilidad",
            "values": [0,0.01,0.02,0.03,0.04,0.05,0.06,0.07,0.08,0.09,0.1,0.11,0.12,0.13,0.14,0.15,0.16,0.17,0.18,0.19,0.2,0.21,0.22,0.23,0.24,0.25,0.26,0.27,0.28,0.29,0.3,0.31,0.32,0.33,0.34,0.35,0.36,0.37,0.38,0.39,0.4,0.41,0.42,0.43,0.44,0.45,0.46,0.47,0.48,0.49,0.5,0.51,0.52,0.53,0.54,0.55,0.56,0.57,0.58,0.59,0.6,0.61,0.62,0.63,0.64,0.65,0.66,0.67,0.68,0.69,0.7,0.71,0.72,0.73,0.74,0.75,0.76,0.77,0.78,0.79,0.8,0.81,0.82,0.83,0.84,0.85,0.86,0.87,0.88,0.89,0.9,0.91,0.92,0.93,0.94,0.95,0.96,0.97,0.98,0.99,1.0,1.01],
            "labelExpr": "abs(datum.value*10 - round(datum.value*10)) < 0.001 ? (datum.value < 0.001 ? '0' : (abs(datum.value - 1) < 0.001 ? '1' : '.' + round(datum.value*10))) : ''",
            "tickSize": {"condition": {"test": "abs(datum.value*10 - round(datum.value*10)) < 0.001", "value": 15}, "value": 7},
            "gridOpacity": {"condition": {"test": "abs(datum.value*10 - round(datum.value*10)) < 0.001 && datum.value > 0.05 && datum.value < 1.005", "value": 1}, "value": 0}
          }
        },
        "text": {"field": "texto"}
      }
    },
    {
      "data": {"name": "nota_lateral"},
      "mark": {"type": "text", "font": "Liberation Serif", "fontSize": 48, "align": "left", "baseline": "middle", "fill": "white", "stroke": "white", "strokeWidth": 20, "strokeJoin": "round"},
      "encoding": {
        "y": {
          "field": "s", "type": "quantitative", "title": "Probabilidad",
          "scale": {"domain": [0, 1.017], "nice": false, "zero": false},
          "axis": {
            "title": "Probabilidad",
            "values": [0,0.01,0.02,0.03,0.04,0.05,0.06,0.07,0.08,0.09,0.1,0.11,0.12,0.13,0.14,0.15,0.16,0.17,0.18,0.19,0.2,0.21,0.22,0.23,0.24,0.25,0.26,0.27,0.28,0.29,0.3,0.31,0.32,0.33,0.34,0.35,0.36,0.37,0.38,0.39,0.4,0.41,0.42,0.43,0.44,0.45,0.46,0.47,0.48,0.49,0.5,0.51,0.52,0.53,0.54,0.55,0.56,0.57,0.58,0.59,0.6,0.61,0.62,0.63,0.64,0.65,0.66,0.67,0.68,0.69,0.7,0.71,0.72,0.73,0.74,0.75,0.76,0.77,0.78,0.79,0.8,0.81,0.82,0.83,0.84,0.85,0.86,0.87,0.88,0.89,0.9,0.91,0.92,0.93,0.94,0.95,0.96,0.97,0.98,0.99,1.0,1.01],
            "labelExpr": "abs(datum.value*10 - round(datum.value*10)) < 0.001 ? (datum.value < 0.001 ? '0' : (abs(datum.value - 1) < 0.001 ? '1' : '.' + round(datum.value*10))) : ''",
            "tickSize": {"condition": {"test": "abs(datum.value*10 - round(datum.value*10)) < 0.001", "value": 15}, "value": 7},
            "gridOpacity": {"condition": {"test": "abs(datum.value*10 - round(datum.value*10)) < 0.001 && datum.value > 0.05 && datum.value < 1.005", "value": 1}, "value": 0}
          }
        },
        "text": {"field": "texto"}
      }
    },
    {
      "data": {"name": "nota_lateral"},
      "mark": {"type": "text", "font": "Liberation Serif", "fontSize": 48, "align": "left", "baseline": "middle", "color": "black"},
      "encoding": {
        "y": {
          "field": "s", "type": "quantitative", "title": "Probabilidad",
          "scale": {"domain": [0, 1.017], "nice": false, "zero": false},
          "axis": {
            "title": "Probabilidad",
            "values": [0,0.01,0.02,0.03,0.04,0.05,0.06,0.07,0.08,0.09,0.1,0.11,0.12,0.13,0.14,0.15,0.16,0.17,0.18,0.19,0.2,0.21,0.22,0.23,0.24,0.25,0.26,0.27,0.28,0.29,0.3,0.31,0.32,0.33,0.34,0.35,0.36,0.37,0.38,0.39,0.4,0.41,0.42,0.43,0.44,0.45,0.46,0.47,0.48,0.49,0.5,0.51,0.52,0.53,0.54,0.55,0.56,0.57,0.58,0.59,0.6,0.61,0.62,0.63,0.64,0.65,0.66,0.67,0.68,0.69,0.7,0.71,0.72,0.73,0.74,0.75,0.76,0.77,0.78,0.79,0.8,0.81,0.82,0.83,0.84,0.85,0.86,0.87,0.88,0.89,0.9,0.91,0.92,0.93,0.94,0.95,0.96,0.97,0.98,0.99,1.0,1.01],
            "labelExpr": "abs(datum.value*10 - round(datum.value*10)) < 0.001 ? (datum.value < 0.001 ? '0' : (abs(datum.value - 1) < 0.001 ? '1' : '.' + round(datum.value*10))) : ''",
            "tickSize": {"condition": {"test": "abs(datum.value*10 - round(datum.value*10)) < 0.001", "value": 15}, "value": 7},
            "gridOpacity": {"condition": {"test": "abs(datum.value*10 - round(datum.value*10)) < 0.001 && datum.value > 0.05 && datum.value < 1.005", "value": 1}, "value": 0}
          }
        },
        "text": {"field": "texto"}
      }
    }
  ]
}
